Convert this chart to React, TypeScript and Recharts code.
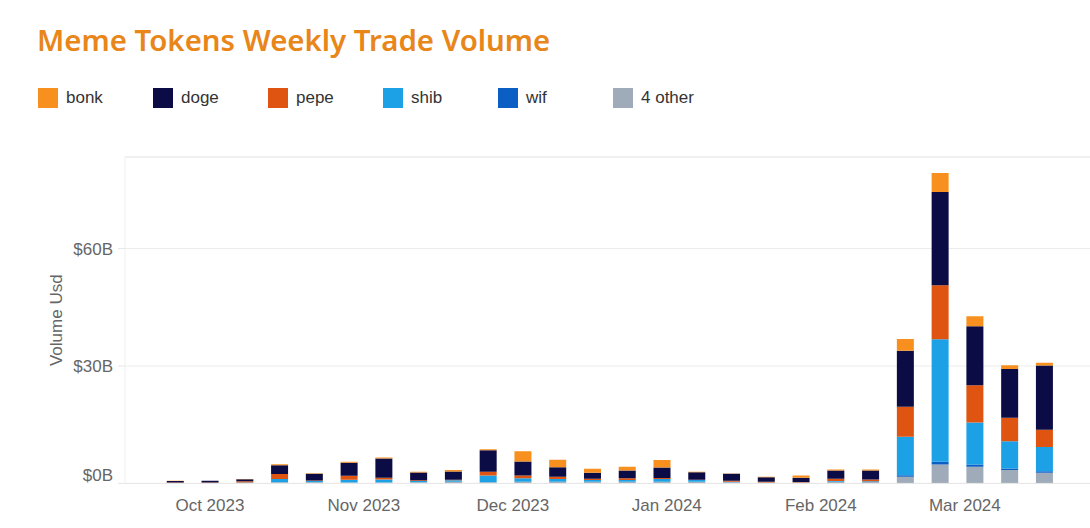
import { BarChart, Bar, XAxis, YAxis, CartesianGrid, ReferenceLine } from 'recharts'

const weeks = [
  '2023-09-24', '2023-10-01', '2023-10-08', '2023-10-15', '2023-10-22', '2023-10-29',
  '2023-11-05', '2023-11-12', '2023-11-19', '2023-11-26', '2023-12-03', '2023-12-10',
  '2023-12-17', '2023-12-24', '2023-12-31', '2024-01-07', '2024-01-14', '2024-01-21',
  '2024-01-28', '2024-02-04', '2024-02-11', '2024-02-18', '2024-02-25', '2024-03-03',
  '2024-03-10', '2024-03-17',
]

// weekly volume, billions USD
const other = [0.05, 0.05, 0.1, 0.3, 0.3, 0.2, 0.2, 0.3, 0.4, 0.3, 0.4, 0.4, 0.4, 0.4, 0.4, 0.4, 0.3, 0.2, 0.15, 0.4, 0.35, 1.7, 4.85, 4.25, 3.4, 2.7]
const wif = [0, 0, 0, 0, 0, 0, 0, 0, 0, 0, 0, 0, 0, 0, 0, 0, 0, 0, 0, 0.02, 0.02, 0.4, 0.7, 0.6, 0.4, 0.4]
const shib = [0.05, 0.05, 0.1, 0.8, 0.3, 0.75, 0.8, 0.3, 0.4, 1.7, 0.9, 0.7, 0.5, 0.5, 0.7, 0.45, 0.1, 0.05, 0.05, 0.2, 0.15, 9.8, 31.3, 10.7, 7.0, 6.2]
const pepe = [0.1, 0.1, 0.35, 1.3, 0.15, 1.0, 0.45, 0.2, 0.15, 1.0, 0.7, 0.6, 0.3, 0.4, 0.25, 0.1, 0.3, 0.2, 0.15, 0.6, 0.5, 7.7, 13.8, 9.5, 6.0, 4.4]
const doge = [0.4, 0.45, 0.5, 2.25, 1.7, 3.35, 4.9, 2.0, 2.1, 5.5, 3.6, 2.4, 1.55, 2.0, 2.7, 1.9, 1.75, 1.15, 1.1, 2.1, 2.3, 14.3, 23.8, 15.1, 12.4, 16.4]
const bonk = [0.05, 0.05, 0.05, 0.25, 0.15, 0.2, 0.25, 0.2, 0.35, 0.25, 2.6, 1.95, 1.0, 0.95, 1.95, 0.15, 0.1, 0.1, 0.6, 0.25, 0.25, 3.0, 4.85, 2.55, 1.0, 0.75]

const monthStarts = ['2023-10-01', '2023-11-01', '2023-12-01', '2024-01-01', '2024-02-01', '2024-03-01']
const monthLabels = ['Oct 2023', 'Nov 2023', 'Dec 2023', 'Jan 2024', 'Feb 2024', 'Mar 2024']
const yTicks = [0, 30, 60]

const series = [
  { key: 'bonk', name: 'bonk', color: '#F7901E' },
  { key: 'doge', name: 'doge', color: '#0B0B45' },
  { key: 'pepe', name: 'pepe', color: '#DF5410' },
  { key: 'shib', name: 'shib', color: '#1CA1E6' },
  { key: 'wif', name: 'wif', color: '#0B5EC4' },
  { key: 'other', name: '4 other', color: '#A0ABB9' },
]

const origin = Date.parse('2023-10-01')
const dayOf = (s: string) => (Date.parse(s) - origin) / 86400000

const data = weeks.map((w, i) => ({
  day: dayOf(w),
  other: other[i],
  wif: wif[i],
  shib: shib[i],
  pepe: pepe[i],
  doge: doge[i],
  bonk: bonk[i],
}))

const monthTicks = monthStarts.map(dayOf)
const font = '"Liberation Sans", Arial, sans-serif'
const stackOrder = ['other', 'wif', 'shib', 'pepe', 'doge', 'bonk']

function YTick({ x, y, payload }: any) {
  const shift = payload.value === 0 ? -8 : 0
  return (
    <text x={x} y={y + shift} dy="0.355em" textAnchor="end" fill="#666" fontSize={17} fontFamily={font}>
      {`$${payload.value}B`}
    </text>
  )
}

function YLabel({ viewBox }: any) {
  const cx = viewBox.x + 56
  const cy = viewBox.y + viewBox.height / 2
  return (
    <text x={cx} y={cy} transform={`rotate(-90 ${cx} ${cy})`} textAnchor="middle" dy="0.355em" fill="#666" fontSize={17} fontFamily={font}>
      Volume Usd
    </text>
  )
}

export default function App() {
  return (
    <div style={{ position: 'absolute', left: 0, top: 0, width: 1090, height: 528, background: '#fff', overflow: 'hidden' }}>
      <div style={{ position: 'absolute', left: 37, top: 20, fontFamily: '"Noto Sans", sans-serif', fontWeight: 600, fontSize: 29.4, color: '#E8861A' }}>
        Meme Tokens Weekly Trade Volume
      </div>
      <div style={{ position: 'absolute', left: 38, top: 88, display: 'flex', fontFamily: font, fontSize: 17, color: '#333' }}>
        {series.map((s) => (
          <div key={s.key} style={{ width: 115, display: 'flex', alignItems: 'center' }}>
            <span style={{ width: 20, height: 20, background: s.color, marginRight: 8 }} />
            <span>{s.name}</span>
          </div>
        ))}
      </div>
      <BarChart width={1090} height={528} data={data} margin={{ top: 157, right: 0, bottom: 0, left: 0 }}>
        <CartesianGrid vertical={false} stroke="#ececec" />
        <ReferenceLine y={83.4} stroke="#ececec" />
        <XAxis
          dataKey="day"
          type="number"
          height={44.6}
          domain={[-17.1, 177.2]}
          allowDataOverflow
          ticks={monthTicks}
          tickFormatter={(v: number) => monthLabels[monthTicks.indexOf(v)]}
          tick={{ fill: '#666', fontSize: 17, fontFamily: font }}
          tickLine={false}
          tickSize={8}
          tickMargin={8}
          axisLine={{ stroke: '#e6e6e6' }}
        />
        <YAxis
          width={125}
          domain={[0, 83.4]}
          ticks={yTicks}
          allowDataOverflow
          tick={<YTick />}
          tickSize={7}
          tickMargin={5}
          tickLine={{ stroke: '#e6e6e6' }}
          axisLine={{ stroke: '#f0f0f0' }}
          label={<YLabel />}
        />
        {stackOrder.map((k) => {
          const s = series.find((x) => x.key === k)!
          return <Bar key={k} dataKey={k} stackId="a" fill={s.color} barSize={17} isAnimationActive={false} />
        })}
      </BarChart>
    </div>
  )
}
